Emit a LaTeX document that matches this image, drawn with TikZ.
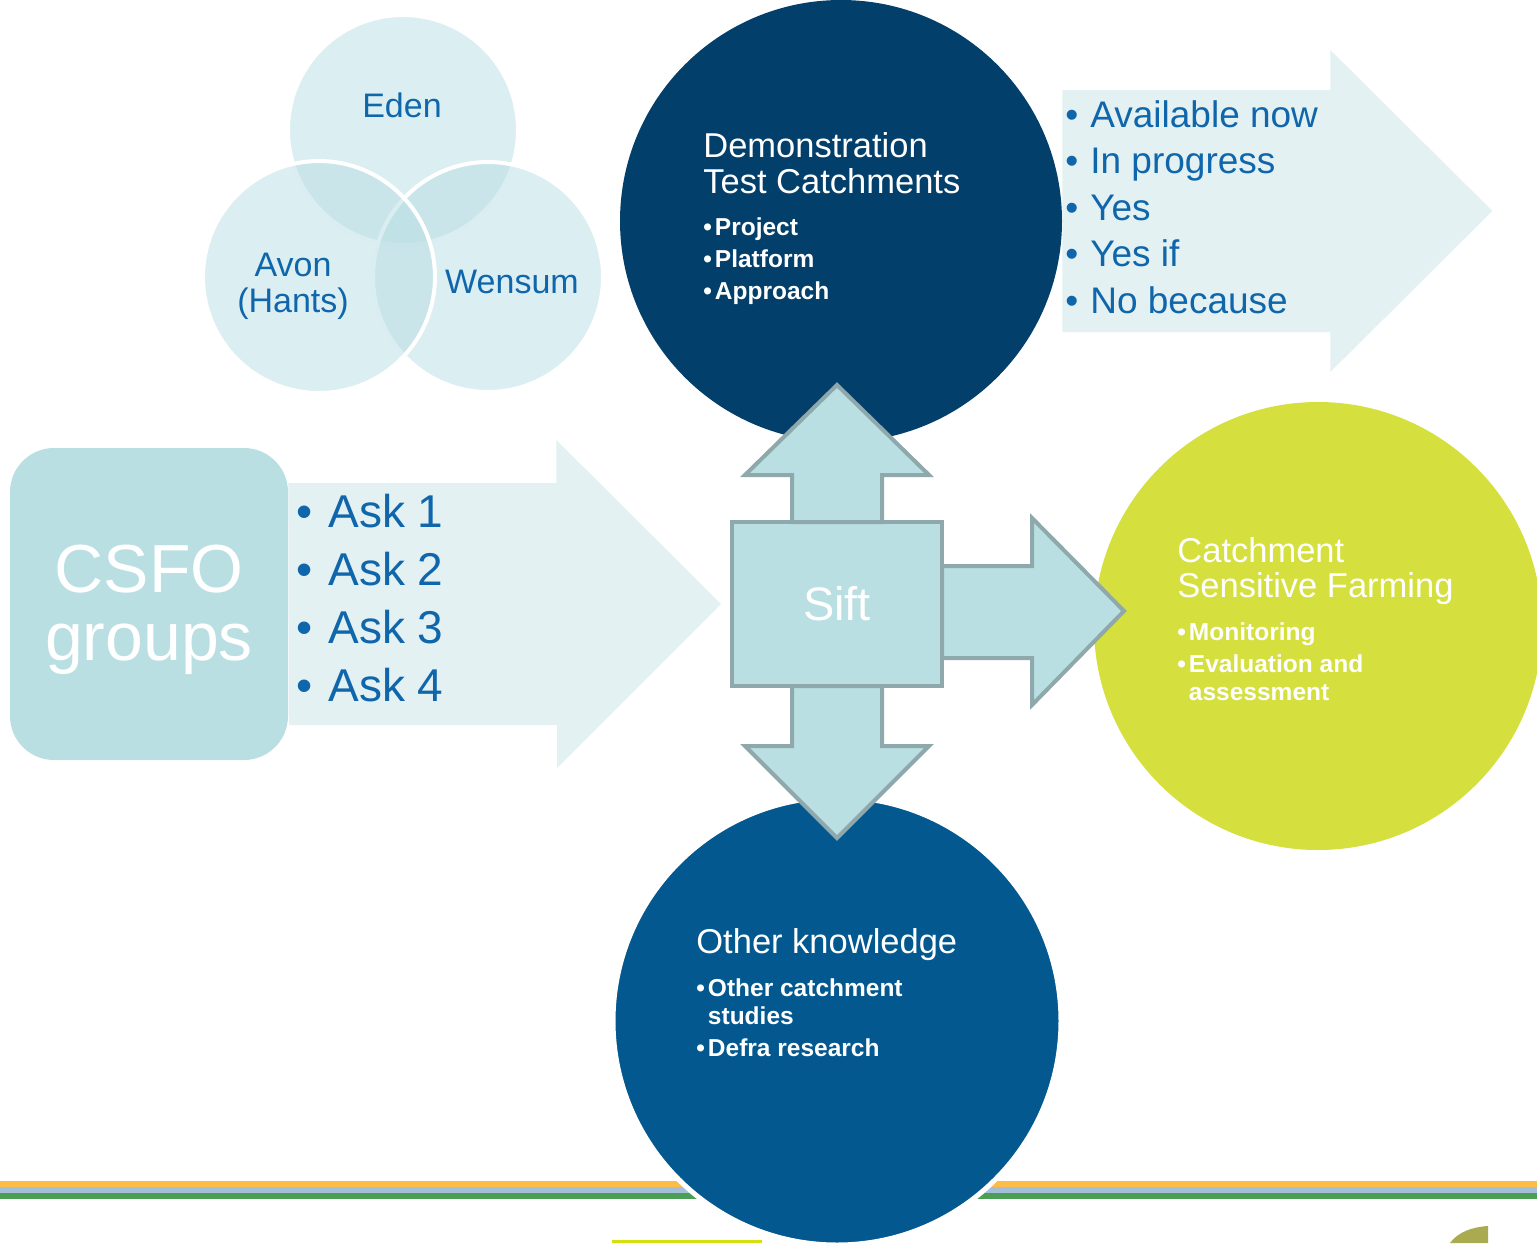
\documentclass[tikz,border=0pt]{standalone}
\usepackage{fontspec}
\setmainfont{Liberation Sans}
\usetikzlibrary{positioning,calc,backgrounds}
\definecolor{venncol}{HTML}{B7DDE3}
\definecolor{csfocol}{HTML}{B9DFE3}
\definecolor{palearr}{HTML}{E4F1F3}
\definecolor{siftedge}{HTML}{8FA8AC}
\definecolor{dtcblue}{HTML}{023F6A}
\definecolor{okblue}{HTML}{02588F}
\definecolor{csfgreen}{HTML}{D5DF3D}
\definecolor{listblue}{HTML}{0F66AB}
\definecolor{barorange}{HTML}{FDBC48}
\definecolor{barblue}{HTML}{A3BED9}
\definecolor{bargreen}{HTML}{4A9F55}
\definecolor{logoyellow}{HTML}{D6DF10}
\definecolor{logoolive}{HTML}{AAAB50}
\newcommand\hubdot{\textbullet\hspace{1.5pt}}

\begin{document}
\begin{tikzpicture}[x=0.5pt,y=-0.5pt,
venn/.style={circle,inner sep=0pt,minimum size=115pt,fill=venncol,
fill opacity=0.5,draw=white,line width=2pt},
vlabel/.style={anchor=base,inner sep=0pt,align=center,text=listblue,
font=\fontsize{17pt}{18pt}\selectfont},
hub/.style={circle,inner sep=0pt,minimum size=224pt},
htitle/.style={anchor=base west,inner sep=0pt,align=left,text=white,
font=\fontsize{17.25pt}{18pt}\selectfont},
hitem/.style={anchor=base west,inner sep=0pt,align=left,text=white,
font=\bfseries\fontsize{12.25pt}{14pt}\selectfont},
ask/.style={anchor=base west,inner sep=0pt,text=listblue,
font=\fontsize{23pt}{24pt}\selectfont},
avail/.style={anchor=base west,inner sep=0pt,text=listblue,
font=\fontsize{18.5pt}{20pt}\selectfont},
pale/.style={fill=palearr},
cross/.style={fill=csfocol,draw=siftedge,line width=2pt}
]
\useasboundingbox (0,0) rectangle (1537,1243);

% bars along the foot
\fill[barorange] (0,1181) rectangle (1537,1187);
\fill[barblue] (0,1187) rectangle (1537,1193);
\fill[bargreen] (0,1193) rectangle (1537,1199);

% the three catchments
\node[venn] (eden) at (403,130) {};
\node[venn] (wensum) at (488,277) {};
\node[venn,minimum size=116pt] (avon) at (319,277) {};
\node[vlabel] (edenlbl) at (402,117) {Eden};
\node[vlabel] (avonlbl) at (293,312) {Avon\\(Hants)};
\node[vlabel] (wensumlbl) at (512,293) {Wensum};

% groups box (multi-line nodes sit on their last baseline)
\node[rectangle,rounded corners=22pt,fill=csfocol,inner sep=0pt,
minimum width=139pt,minimum height=156pt] (csfo) at (149,604) {};
\node[anchor=base,inner sep=0pt,align=center,text=white,
font=\fontsize{34pt}{34pt}\selectfont] (csfolbl) at (149,660) {CSFO\\groups};

% hubs
\node[hub,minimum size=221pt,fill=dtcblue] (dtc) at (841,221) {};
\node[hub,fill=csfgreen] (csf) at (1318,626) {};
\node[hub,fill=okblue,draw=white,line width=2.5pt] (other) at (837,1021) {};

\node[rectangle,fill=csfocol,draw=siftedge,line width=2pt,outer sep=0pt,
minimum width=105pt,minimum height=82pt,text=white,
font=\fontsize{23.5pt}{24pt}\selectfont] (sift) at (837,604) {Sift};

% pale arrows under the lists
\begin{scope}[on background layer]
\fill[pale] (csfo.east) ++(0,-121) -- ++(268,0) -- ++(0,-43)
  -- ([xshift=-5.5pt]sift.west) -- ++(-164,164) -- ++(0,-43)
  -- ++(-268,0) -- cycle;
\fill[pale] (dtc.east) ++(0,-131) -- ++(268,0) -- ++(0,-40)
  -- ++(162,161) -- ++(-162,161) -- ++(0,-40) -- ++(-268,0) -- cycle;
\end{scope}

% sift outlets
\draw[cross] (sift.north) ++(-45,0) -- ++(0,-47) -- ++(-47,0) -- ++(92,-90)
  -- ++(92,90) -- ++(-47,0) -- ++(0,47) -- cycle;
\draw[cross] (sift.south) ++(-45,0) -- ++(0,60) -- ++(-47,0) -- ++(92,92)
  -- ++(92,-92) -- ++(-47,0) -- ++(0,-60) -- cycle;
\draw[cross] (sift.east) ++(0,-38) -- ++(90,0) -- ++(0,-48) -- ++(92,93)
  -- ++(-92,94) -- ++(0,-47) -- ++(-90,0) -- cycle;

% hub texts
\node[htitle] (dtctitle) at (703,193) {Demonstration\\Test Catchments};
\foreach \t [count=\i] in {Project,Platform,Approach}
\node[hitem] (dtc\i) at (703,{203+32*\i}) {\hubdot\t};

\node[htitle,font=\fontsize{17.25pt}{17.5pt}\selectfont] (csftitle)
  at (1177,597) {Catchment\\Sensitive Farming};
\node[hitem] (csf1) at (1177,640) {\hubdot Monitoring};
\node[hitem] (csf2) at (1177,700) {\hubdot Evaluation and\\\hphantom{\hubdot}assessment};

\node[htitle] (othertitle) at (696,953) {Other knowledge};
\node[hitem] (other1) at (696,1024) {\hubdot Other catchment\\\hphantom{\hubdot}studies};
\node[hitem] (other2) at (696,1056) {\hubdot Defra research};

% lists
\foreach \i in {1,...,4}
\node[ask] (ask\i) at (296,{469+58*\i}) {\textbullet\hspace{8pt}Ask \i};
\foreach \t [count=\i] in {Available now,In progress,Yes,Yes if,No because}
\node[avail] (avail\i) at (1065,{80.5+46.5*\i}) {\textbullet\hspace{6pt}\t};

% logo scraps at the lower edge
\fill[logoyellow] (612,1240) rectangle (762,1243);
\fill[logoolive] (1450,1243) .. controls (1458,1232) and (1472,1227) .. (1488,1226)
  -- (1488,1243) -- cycle;
\end{tikzpicture}
\end{document}
